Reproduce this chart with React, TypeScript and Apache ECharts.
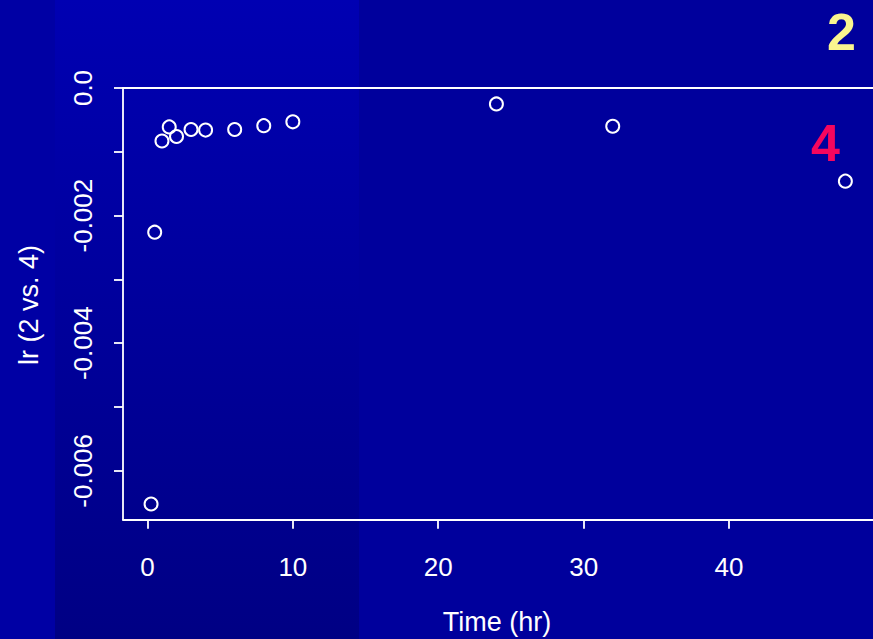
import React, { useEffect, useRef } from "react";
import * as echarts from "echarts";

const times = [0.25, 0.5, 1, 1.5, 2, 3, 4, 6, 8, 10, 24, 32, 48];
const lrValues = [
  -0.00652, -0.00226, -0.00083, -0.00061, -0.00076, -0.00065, -0.00066,
  -0.00065, -0.00059, -0.00053, -0.00025, -0.0006, -0.00146,
];
const xTicks = [0, 10, 20, 30, 40];
const yTicks = [0, -0.001, -0.002, -0.003, -0.004, -0.005, -0.006];
const yLabelValues = [0, -0.002, -0.004, -0.006];
const yLabelText: Record<string, string> = {
  "0": "0.0",
  "-0.002": "-0.002",
  "-0.004": "-0.004",
  "-0.006": "-0.006",
};
const xTitle = "Time (hr)";
const yTitle = "lr (2 vs. 4)";
const tagTop = "2";
const tagBottom = "4";

const FONT = "'Liberation Sans', Arial, Helvetica, sans-serif";

export default function App() {
  const ref = useRef<HTMLDivElement>(null);
  useEffect(() => {
    if (!ref.current) return;
    const chart = echarts.init(ref.current, null, { renderer: "svg" });
    const white = "#ffffff";
    const axisCommon = {
      axisLine: { show: true, onZero: false, lineStyle: { color: white, width: 1.8 } },
      splitLine: { show: false },
    };
    chart.setOption({
      animation: false,
      backgroundColor: "transparent",
      textStyle: { fontFamily: FONT },
      grid: { left: 123, top: 88, right: 0, bottom: 119.3, containLabel: false },
      xAxis: [
        {
          type: "value",
          position: "bottom",
          min: -1.68,
          max: 49.9,
          ...axisCommon,
          axisTick: {
            show: true,
            length: 9,
            lineStyle: { color: white, width: 1.8 },
            customValues: xTicks,
          },
          axisLabel: {
            show: true,
            color: white,
            fontSize: 26,
            fontFamily: FONT,
            margin: 34,
            customValues: xTicks,
            formatter: (v: number) => String(Math.round(v)),
          },
        },
        {
          type: "value",
          position: "top",
          min: -1.68,
          max: 49.9,
          ...axisCommon,
          axisTick: { show: false },
          axisLabel: { show: false },
        },
      ],
      yAxis: {
        type: "value",
        position: "left",
        min: -0.006766,
        max: 0,
        ...axisCommon,
        axisTick: {
          show: true,
          length: 9,
          lineStyle: { color: white, width: 1.8 },
          customValues: yTicks,
        },
        axisLabel: {
          show: true,
          color: white,
          fontSize: 26,
          fontFamily: FONT,
          rotate: 90,
          margin: 27,
          customValues: yLabelValues,
          formatter: (v: number) => {
            const key = String(Math.round(v * 1000) / 1000);
            return yLabelText[key] ?? String(v);
          },
        },
      },
      series: [
        {
          type: "scatter",
          xAxisIndex: 0,
          data: times.map((t, i) => [t, lrValues[i]]),
          symbol: "circle",
          symbolSize: 13,
          itemStyle: {
            color: "rgba(0,0,0,0)",
            borderColor: white,
            borderWidth: 2,
            opacity: 1,
          },
          clip: false,
        },
      ],
      graphic: [
        {
          type: "text",
          x: 497,
          y: 622,
          style: {
            text: xTitle,
            fill: white,
            font: `27px ${FONT}`,
            textAlign: "center",
            textVerticalAlign: "middle",
          },
        },
        {
          type: "text",
          x: 28.5,
          y: 305,
          rotation: Math.PI / 2,
          style: {
            text: yTitle,
            fill: white,
            font: `27px ${FONT}`,
            textAlign: "center",
            textVerticalAlign: "middle",
          },
        },
        {
          type: "text",
          x: 841.5,
          y: 32,
          style: {
            text: tagTop,
            fill: "#FAF58F",
            font: `bold 52px ${FONT}`,
            textAlign: "center",
            textVerticalAlign: "middle",
          },
        },
        {
          type: "text",
          x: 825.5,
          y: 143,
          style: {
            text: tagBottom,
            fill: "#F5065E",
            font: `bold 52px ${FONT}`,
            textAlign: "center",
            textVerticalAlign: "middle",
          },
        },
      ],
    });
    return () => chart.dispose();
  }, []);
  return (
    <div
      ref={ref}
      style={{
        position: "fixed",
        left: 0,
        top: 0,
        width: 873,
        height: 639,
        background:
          "linear-gradient(to bottom, #0000B2, #000084) 55px 0 / 304px 100% no-repeat, linear-gradient(to right, #0000A4 0px, #0000A4 55px, #00009C 55px, #00009C 100%)",
      }}
    />
  );
}
